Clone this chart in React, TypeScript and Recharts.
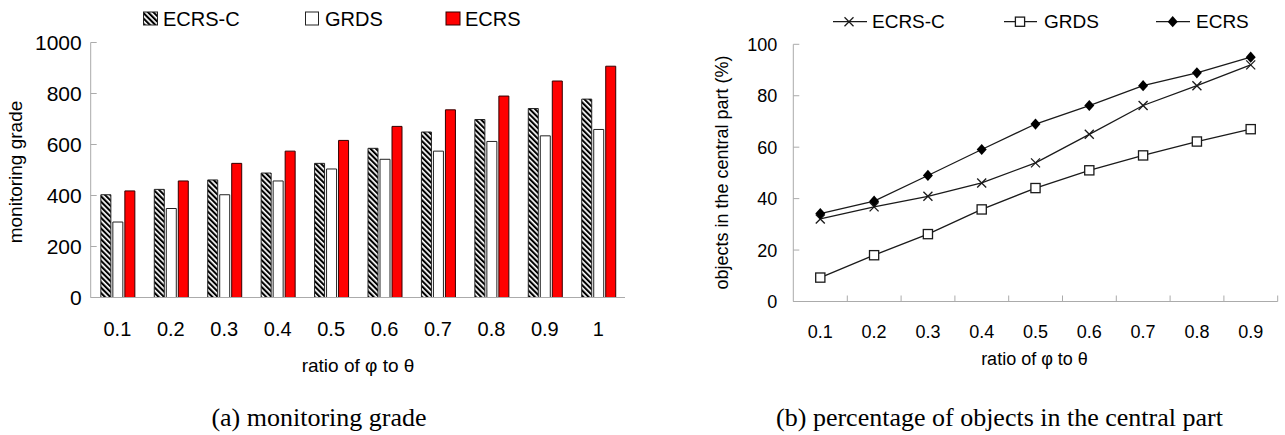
import React from "react"
import { Bar, BarChart, Label, Line, LineChart, XAxis, YAxis } from "recharts"

const ratios = ["0.1", "0.2", "0.3", "0.4", "0.5", "0.6", "0.7", "0.8", "0.9", "1"]
const ecrsCGrade = [403, 424, 461, 488, 526, 585, 649, 698, 741, 778]
const grdsGrade = [296, 349, 403, 457, 504, 542, 574, 612, 634, 659]
const ecrsGrade = [418, 457, 526, 574, 616, 671, 736, 790, 849, 907]
const gradeTicks = [0, 200, 400, 600, 800, 1000]

const lineRatios = ["0.1", "0.2", "0.3", "0.4", "0.5", "0.6", "0.7", "0.8", "0.9"]
const ecrsCPct = [32.1, 36.8, 40.9, 46.1, 53.9, 65, 76.2, 83.9, 92]
const grdsPct = [9.3, 18, 26.2, 35.8, 44.1, 51, 56.8, 62.2, 67]
const ecrsPct = [34.2, 39, 49, 59.1, 69, 76.2, 83.9, 88.9, 95]
const pctTicks = [0, 20, 40, 60, 80, 100]

const seriesNames = ["ECRS-C", "GRDS", "ECRS"]

const SANS = "'Liberation Sans', Arial, sans-serif"
const SERIF = "'Liberation Serif', 'Times New Roman', serif"
const AXIS = "#ababab"
const INK = "#1a1a1a"
const HALF_BAND = 27
const X_TICK_GAP = 24

const gradeRows = ratios.map((r, i) => ({
  ratio: r,
  ecrsC: ecrsCGrade[i],
  grds: grdsGrade[i],
  ecrs: ecrsGrade[i],
}))

const pctRows = lineRatios.map((r, i) => ({
  ratio: r,
  ecrsC: ecrsCPct[i],
  grds: grdsPct[i],
  ecrs: ecrsPct[i],
}))

const vLabel = (text: string, x: number, y: number, size: number) => () => (
  <text
    x={x}
    y={y}
    transform={`rotate(-90 ${x} ${y})`}
    textAnchor="middle"
    dominantBaseline="central"
    fontSize={size}
    fontFamily={SANS}
    fill="#000"
  >
    {text}
  </text>
)

const hLabel = (text: string, x: number, y: number, size: number) => () => (
  <text x={x} y={y} textAnchor="middle" dominantBaseline="central" fontSize={size} fontFamily={SANS} fill="#000">
    {text}
  </text>
)

const CrossDot = (p: any) => (
  <g key={`c-${p.index}`}>
    <line x1={p.cx - 4.5} y1={p.cy - 4.5} x2={p.cx + 4.5} y2={p.cy + 4.5} stroke={INK} strokeWidth={1.3} />
    <line x1={p.cx - 4.5} y1={p.cy + 4.5} x2={p.cx + 4.5} y2={p.cy - 4.5} stroke={INK} strokeWidth={1.3} />
  </g>
)

const SquareDot = (p: any) => (
  <rect key={`s-${p.index}`} x={p.cx - 4.6} y={p.cy - 4.6} width={9.2} height={9.2} fill="#fff" stroke={INK} strokeWidth={1.3} />
)

const DiamondDot = (p: any) => (
  <polygon
    key={`d-${p.index}`}
    points={`${p.cx},${p.cy - 5.6} ${p.cx + 5},${p.cy} ${p.cx},${p.cy + 5.6} ${p.cx - 5},${p.cy}`}
    fill="#000"
  />
)

// category label at the band centre, tick mark on the band's right edge (pointing inward)
const PctTick = (p: any) => {
  const axisY = p.y - X_TICK_GAP
  return (
    <g>
      <line x1={p.x + HALF_BAND} y1={axisY} x2={p.x + HALF_BAND} y2={axisY - 6} stroke={AXIS} />
      <text x={p.x} y={p.y} dy="0.71em" textAnchor="middle" fontSize={18} fontFamily={SANS} fill="#000">
        {p.payload.value}
      </text>
    </g>
  )
}

// value label left of the axis, small tick pointing into the plot
const makeYTick = (gap: number, size: number) => (p: any) => {
  const axisX = p.x + gap
  return (
    <g>
      <line x1={axisX} y1={p.y} x2={axisX + 6} y2={p.y} stroke={AXIS} />
      <text x={p.x} y={p.y} dy="0.36em" textAnchor="end" fontSize={size} fontFamily={SANS} fill="#000">
        {p.payload.value}
      </text>
    </g>
  )
}

function Hatch({ id }: { id: string }) {
  return (
    <pattern id={id} patternUnits="userSpaceOnUse" width="3.8" height="3.8" patternTransform="rotate(-45)">
      <rect width="3.8" height="3.8" fill="#fff" />
      <rect width="2.1" height="3.8" fill="#000" />
    </pattern>
  )
}

function Legends() {
  const t = { fontFamily: SANS, fill: "#000", dominantBaseline: "central" as const }
  return (
    <svg width={1285} height={40} style={{ position: "absolute", left: 0, top: 0 }}>
      <defs>
        <Hatch id="hatchLegend" />
      </defs>
      {/* left chart */}
      <rect x={143.5} y={12} width={14} height={13} fill="url(#hatchLegend)" stroke="#222" />
      <text x={163} y={18.5} fontSize={20} {...t}>{seriesNames[0]}</text>
      <rect x={305.5} y={12} width={13} height={13} fill="#fff" stroke="#222" />
      <text x={325} y={18.5} fontSize={20} {...t}>{seriesNames[1]}</text>
      <rect x={446} y={12} width={14} height={13} fill="#ff0000" stroke="#300" />
      <text x={465} y={18.5} fontSize={20} {...t}>{seriesNames[2]}</text>
      {/* right chart */}
      <line x1={833} y1={21.7} x2={867} y2={21.7} stroke={INK} strokeWidth={1.3} />
      <CrossDot cx={849} cy={21.7} index={0} />
      <text x={872} y={21.7} fontSize={19} {...t}>{seriesNames[0]}</text>
      <line x1={1004} y1={21.7} x2={1037} y2={21.7} stroke={INK} strokeWidth={1.3} />
      <SquareDot cx={1020} cy={21.7} index={0} />
      <text x={1044} y={21.7} fontSize={19} {...t}>{seriesNames[1]}</text>
      <line x1={1156} y1={21.7} x2={1190} y2={21.7} stroke={INK} strokeWidth={1.3} />
      <DiamondDot cx={1172.7} cy={21.7} index={0} />
      <text x={1196} y={21.7} fontSize={19} {...t}>{seriesNames[2]}</text>
    </svg>
  )
}

function GradeChart() {
  const tick = { fill: "#000", fontSize: 20, fontFamily: SANS }
  return (
    <BarChart
      width={640}
      height={380}
      data={gradeRows}
      margin={{ top: 42.5, right: 15, bottom: 0, left: 0 }}
      barCategoryGap="19%"
      barGap={2}
    >
      <defs>
        <Hatch id="hatchBar" />
      </defs>
      <XAxis
        dataKey="ratio"
        height={82.5}
        interval={0}
        tickLine={false}
        tickSize={0}
        tickMargin={X_TICK_GAP}
        axisLine={{ stroke: AXIS }}
        tick={tick}
      >
        <Label content={hLabel("ratio of φ to θ", 358, 365, 19)} />
      </XAxis>
      <YAxis
        domain={[0, 1000]}
        ticks={gradeTicks}
        interval={0}
        width={90.7}
        tickSize={0}
        tickMargin={9}
        tickLine={false}
        axisLine={{ stroke: AXIS }}
        tick={makeYTick(9, 21)}
      >
        <Label content={vLabel("monitoring grade", 15, 172, 19)} />
      </YAxis>
      <Bar dataKey="ecrsC" name={seriesNames[0]} fill="url(#hatchBar)" stroke="#222" strokeWidth={1} isAnimationActive={false} />
      <Bar dataKey="grds" name={seriesNames[1]} fill="#fff" stroke="#222" strokeWidth={1} isAnimationActive={false} />
      <Bar dataKey="ecrs" name={seriesNames[2]} fill="#ff0000" stroke="#330000" strokeWidth={1} isAnimationActive={false} />
    </BarChart>
  )
}

function PctChart() {
  return (
    <LineChart width={645} height={380} data={pctRows} margin={{ top: 44.3, right: 7.3, bottom: 0, left: 0 }}>
      <XAxis
        dataKey="ratio"
        height={78.5}
        interval={0}
        padding={{ left: HALF_BAND, right: HALF_BAND }}
        tickLine={false}
        axisLine={{ stroke: AXIS }}
        tickSize={0}
        tickMargin={X_TICK_GAP}
        tick={PctTick}
      >
        <Label content={hLabel("ratio of φ to θ", 394.5, 359, 18)} />
      </XAxis>
      <YAxis
        domain={[0, 100]}
        ticks={pctTicks}
        interval={0}
        width={153.3}
        tickSize={0}
        tickMargin={16}
        tickLine={false}
        axisLine={{ stroke: AXIS }}
        tick={makeYTick(16, 18)}
      >
        <Label content={vLabel("objects in the central part (%)", 81.7, 172.5, 18)} />
      </YAxis>
      <Line dataKey="ecrsC" name={seriesNames[0]} stroke={INK} strokeWidth={1.3} dot={CrossDot} isAnimationActive={false} />
      <Line dataKey="grds" name={seriesNames[1]} stroke={INK} strokeWidth={1.3} dot={SquareDot} isAnimationActive={false} />
      <Line dataKey="ecrs" name={seriesNames[2]} stroke={INK} strokeWidth={1.3} dot={DiamondDot} isAnimationActive={false} />
    </LineChart>
  )
}

export default function App() {
  const cap = {
    position: "absolute" as const,
    top: 404,
    fontFamily: SERIF,
    fontSize: 26,
    lineHeight: "28px",
    color: "#000",
    whiteSpace: "nowrap" as const,
    transform: "translateX(-50%)",
  }
  return (
    <div style={{ position: "absolute", left: 0, top: 0, width: 1285, height: 435, background: "#fff", overflow: "hidden" }}>
      <div style={{ position: "absolute", left: 0, top: 0 }}>
        <GradeChart />
      </div>
      <div style={{ position: "absolute", left: 640, top: 0 }}>
        <PctChart />
      </div>
      <Legends />
      <div style={{ ...cap, left: 319 }}>(a) monitoring grade</div>
      <div style={{ ...cap, left: 999.5 }}>(b) percentage of objects in the central part</div>
    </div>
  )
}
